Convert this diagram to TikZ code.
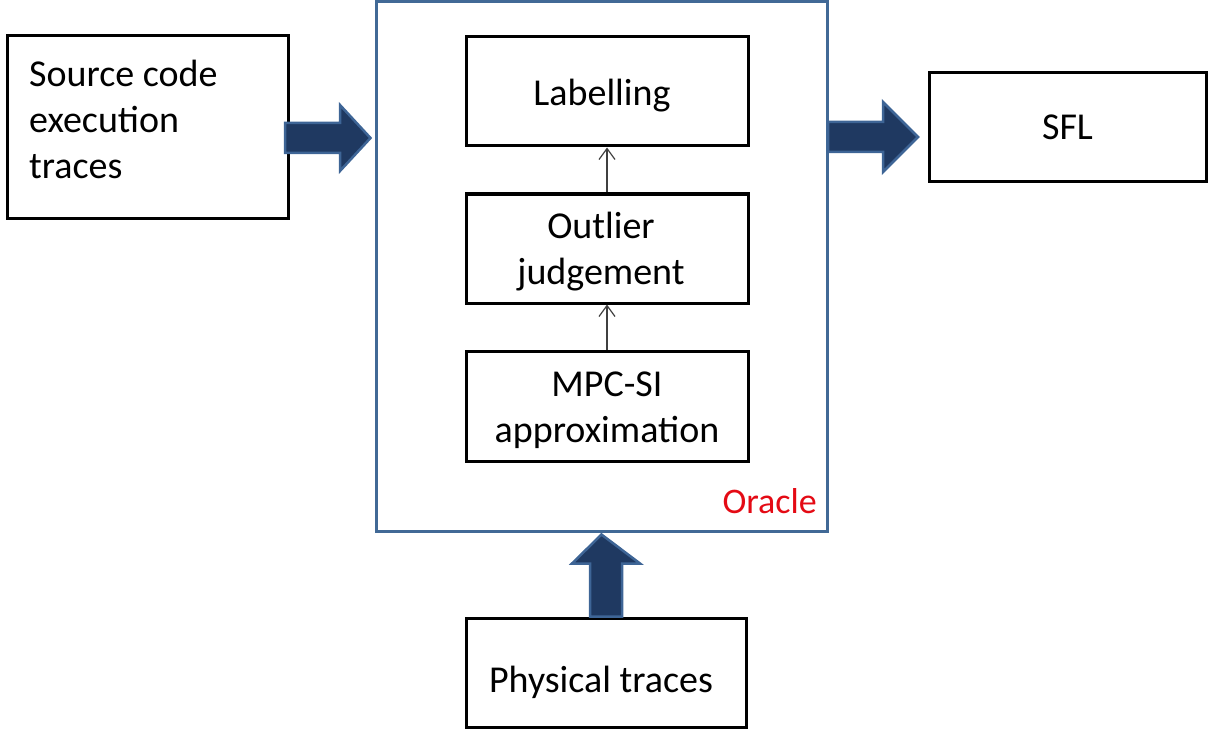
\documentclass[tikz,border=0pt]{standalone}
\usepackage{fontspec}
\setmainfont{Carlito}
\usetikzlibrary{arrows.meta,calc}
\definecolor{oracleblue}{RGB}{65,105,150}
\definecolor{arrowfill}{RGB}{31,57,97}
\definecolor{arrowedge}{RGB}{62,101,150}
\definecolor{oraclered}{RGB}{228,10,20}
\tikzset{
  x=1pt, y=-1pt,
  box/.style={draw=black, line width=3pt, fill=white, inner sep=0pt},
  boxtext/.style={font=\fontsize{38}{46}\selectfont, align=center, inner sep=0pt},
  bigarrow/.style={fill=arrowfill, draw=arrowedge, line width=2.5pt, line join=miter},
  thinarrow/.style={draw=black!75, line width=1.2pt, -{Straight Barb[length=11pt,width=16pt,line width=1.2pt]}}
}
\begin{document}
\begin{tikzpicture}
\useasboundingbox (0,0) rectangle (1208,733);

% oracle frame
\node[draw=oracleblue, line width=3pt, minimum width=451pt, minimum height=529pt, inner sep=0pt]
  (oracle) at (601.5,266.5) {};
\node[text=oraclered, font=\fontsize{36}{42}\selectfont, anchor=east, inner sep=0pt]
  (oraclelbl) at (817,501) {Oracle};

% outer boxes
\node[box, minimum width=281pt, minimum height=182pt] (src) at (147.5,127) {};
\node[boxtext, anchor=west, align=left] (srctext) at (29,119) {Source code\\execution\\traces};
\node[box, minimum width=277pt, minimum height=109pt] (sfl) at (1067.5,127.5) {};
\node[boxtext] (sfltext) at ($(sfl.center)+(0,0)$) {SFL};
\node[box, minimum width=280pt, minimum height=109pt] (phys) at (606,672.5) {};
\node[boxtext] (phystext) at ($(phys.center)+(-5,10)$) {Physical traces};

% inner stages
\node[box, minimum width=282pt, minimum height=109pt] (lab) at (607,91.5) {};
\node[boxtext] (labtext) at ($(lab.center)+(-5,4)$) {Labelling};
\node[box, minimum width=282pt, minimum height=109pt] (out) at (607,248.5) {};
\node[boxtext] (outtext) at ($(out.center)+(-6,3)$) {Outlier\\judgement};
\node[box, minimum width=282pt, minimum height=110pt] (mpc) at (607,406) {};
\node[boxtext] (mpctext) at ($(mpc.center)+(0,4)$) {MPC-SI\\approximation};

\draw[thinarrow] (out.north) -- (lab.south);
\draw[thinarrow] (mpc.north) -- (out.south);

% block arrows
\coordinate (la) at (285,138);
\coordinate (ra) at (828,137);
\path (oracle.west |- la) coordinate (latip);
\draw[bigarrow] (la) ++(0,-15) -- ++(55,0) -- ++(0,-18) -- ($(latip)+(-4,0)$)
  -- ($(la)+(55,33)$) -- ++(0,-18) -- ++(-55,0) -- cycle;
\draw[bigarrow] (ra) ++(0,-15) -- ++(55,0) -- ++(0,-20) -- ++(35,35)
  -- ++(-35,35) -- ++(0,-20) -- ++(-55,0) -- cycle;
\coordinate (ua) at (phys.north);
\draw[bigarrow] (ua) ++(-16,0) -- ++(0,-53) -- ++(-18,0) -- ($(oracle.south)+(0,2)$)
  -- ($(ua)+(34,-53)$) -- ++(-18,0) -- ++(0,53) -- cycle;
\end{tikzpicture}
\end{document}
